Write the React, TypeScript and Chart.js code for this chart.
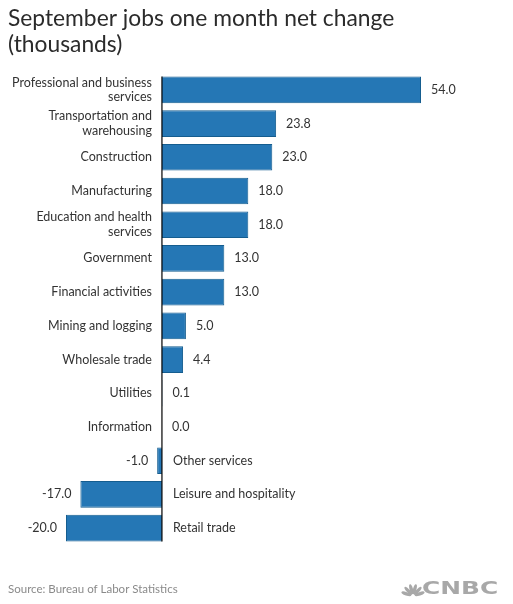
import React, { useEffect, useRef } from "react";
import { Chart, registerables } from "chart.js";

Chart.register(...registerables);

const categories: string[][] = [
  ["Professional and business", "services"],
  ["Transportation and", "warehousing"],
  ["Construction"],
  ["Manufacturing"],
  ["Education and health", "services"],
  ["Government"],
  ["Financial activities"],
  ["Mining and logging"],
  ["Wholesale trade"],
  ["Utilities"],
  ["Information"],
  ["Other services"],
  ["Leisure and hospitality"],
  ["Retail trade"],
];
const values: number[] = [54.0, 23.8, 23.0, 18.0, 18.0, 13.0, 13.0, 5.0, 4.4, 0.1, 0.0, -1.0, -17.0, -20.0];
const titleLines: string[] = ["September jobs one month net change", "(thousands)"];
const sourceText = "Source: Bureau of Labor Statistics";
const xMin = -20;
const xMax = 54;

const FONT = "Lato, 'Open Sans', sans-serif";

const labelPlugin = {
  id: "customLabels",
  afterDraw(chart: any) {
    const ctx = chart.ctx as CanvasRenderingContext2D;
    const xs = chart.scales.x;
    const ys = chart.scales.y;
    const meta = chart.getDatasetMeta(0);
    const zeroX = xs.getPixelForValue(0);
    ctx.save();
    // title
    ctx.fillStyle = "#2b2b2b";
    ctx.font = `22.8px ${FONT}`;
    ctx.textAlign = "left";
    ctx.textBaseline = "middle";
    titleLines.forEach((t, i) => ctx.fillText(t, 8, 19 + i * 26));

    // zero line
    const first = meta.data[0];
    const last = meta.data[meta.data.length - 1];
    ctx.strokeStyle = "#000";
    ctx.lineWidth = 1.2;
    ctx.beginPath();
    ctx.moveTo(zeroX, first.y - first.height / 2);
    ctx.lineTo(zeroX, last.y + last.height / 2);
    ctx.stroke();

    // labels
    ctx.font = `12.5px ${FONT}`;
    ctx.fillStyle = "#333";
    const lh = 14.7;
    values.forEach((v, i) => {
      const y = ys.getPixelForValue(i);
      const end = xs.getPixelForValue(v);
      const lines = categories[i];
      const txt = v.toFixed(1);
      if (v >= 0) {
        ctx.textAlign = "right";
        lines.forEach((l, k) => ctx.fillText(l, zeroX - 10, y + (k - (lines.length - 1) / 2) * lh));
        ctx.textAlign = "left";
        ctx.fillText(txt, Math.max(end, zeroX) + 10, y);
      } else {
        ctx.textAlign = "left";
        lines.forEach((l, k) => ctx.fillText(l, zeroX + 11, y + (k - (lines.length - 1) / 2) * lh));
        ctx.textAlign = "right";
        ctx.fillText(txt, end - 9, y);
      }
    });

    // source
    ctx.textAlign = "left";
    ctx.fillStyle = "#8a8a8a";
    ctx.font = `11.5px ${FONT}`;
    ctx.fillText(sourceText, 8, 589);

    // CNBC logo
    ctx.fillStyle = "#a8a8a8";
    const cx = 413, cy = 596;
    for (let k = 0; k < 6; k++) {
      const r = -1.25 + (2.5 * k) / 5;
      ctx.save();
      ctx.translate(cx, cy);
      ctx.rotate(r);
      ctx.beginPath();
      ctx.ellipse(0, -7, 1.7, 5.2, 0, 0, Math.PI * 2);
      ctx.fill();
      ctx.restore();
    }
    ctx.save();
    ctx.translate(422, 589.5);
    ctx.scale(1.38, 1);
    ctx.font = `bold 18px 'DejaVu Sans', sans-serif`;
    ctx.textAlign = "left";
    ctx.textBaseline = "middle";
    ctx.fillText("CNBC", 0, 0);
    ctx.restore();
    ctx.restore();
  },
};

export default function App() {
  const ref = useRef<HTMLCanvasElement>(null);
  useEffect(() => {
    document.body.style.margin = "0";
    const chart = new Chart(ref.current!, {
      type: "bar",
      data: {
        labels: categories.map((c) => c.join(" ")),
        datasets: [
          {
            data: values,
            backgroundColor: "#2577b5",
            borderColor: "#155d8f",
            borderWidth: 1,
            barPercentage: 0.79,
            categoryPercentage: 1,
          },
        ],
      },
      options: {
        indexAxis: "y",
        animation: false,
        responsive: false,
        layout: { padding: { left: 66, right: 92, top: 73, bottom: 59 } },
        plugins: { legend: { display: false }, tooltip: { enabled: false }, title: { display: false } },
        scales: {
          x: { display: false, min: xMin, max: xMax },
          y: { display: false },
        },
      },
      plugins: [labelPlugin],
    });
    return () => chart.destroy();
  }, []);
  return (
    <div style={{ position: "fixed", left: 0, top: 0, width: 513, height: 604, background: "#fff" }}>
      <canvas ref={ref} width={513} height={604} style={{ width: 513, height: 604 }} />
    </div>
  );
}
